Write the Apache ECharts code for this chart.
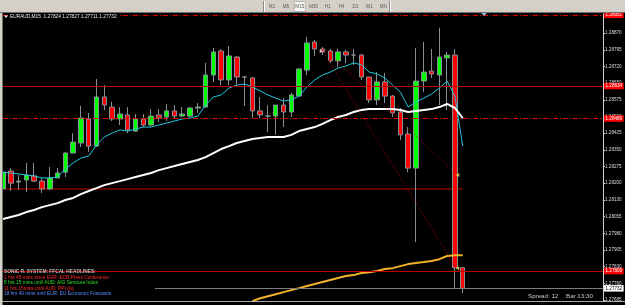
<!DOCTYPE html>
<html>
<head>
<meta charset="utf-8">
<script src="https://cdn.jsdelivr.net/npm/echarts@6/dist/echarts.min.js"></script>
<style>
  html, body { margin: 0; padding: 0; background: #d4d0c8; }
  #chart { width: 625px; height: 305px; }
</style>
</head>
<body>
<div id="chart"></div>
<script>
// ---- data (EURAUD M15, MT4) ----
const SYMBOL = 'EURAUD,M15';
const TIMEFRAMES = ['M1', 'M5', 'M15', 'M30', 'H1', 'H4', 'D1', 'W1', 'MN'];
const ACTIVE_TF = 'M15';

// [open, close, low, high]
const OHLC = [
  [1.28175, 1.28250, 1.28170, 1.28259], [1.28255, 1.28201, 1.28166, 1.28268],
  [1.28206, 1.28210, 1.28170, 1.28237], [1.28215, 1.28237, 1.28161, 1.28291],
  [1.28233, 1.28210, 1.28206, 1.28291], [1.28210, 1.28175, 1.28157, 1.28224],
  [1.28175, 1.28224, 1.28170, 1.28273], [1.28224, 1.28246, 1.28224, 1.28268],
  [1.28250, 1.28335, 1.28228, 1.28340], [1.28335, 1.28384, 1.28335, 1.28424],
  [1.28380, 1.28491, 1.28362, 1.28545], [1.28487, 1.28366, 1.28340, 1.28514],
  [1.28366, 1.28585, 1.28362, 1.28665], [1.28585, 1.28549, 1.28527, 1.28638],
  [1.28540, 1.28487, 1.28478, 1.28563], [1.28487, 1.28509, 1.28460, 1.28540],
  [1.28505, 1.28438, 1.28424, 1.28540], [1.28433, 1.28487, 1.28429, 1.28509],
  [1.28487, 1.28460, 1.28451, 1.28509], [1.28460, 1.28500, 1.28456, 1.28531],
  [1.28505, 1.28491, 1.28473, 1.28531], [1.28496, 1.28523, 1.28478, 1.28554],
  [1.28523, 1.28500, 1.28491, 1.28549], [1.28500, 1.28509, 1.28496, 1.28540],
  [1.28500, 1.28536, 1.28496, 1.28540], [1.28536, 1.28540, 1.28514, 1.28558],
  [1.28540, 1.28683, 1.28540, 1.28737], [1.28683, 1.28786, 1.28652, 1.28804],
  [1.28790, 1.28661, 1.28638, 1.28799], [1.28661, 1.28768, 1.28638, 1.28812],
  [1.28763, 1.28674, 1.28638, 1.28768], [1.28674, 1.28674, 1.28545, 1.28679],
  [1.28670, 1.28523, 1.28491, 1.28674], [1.28523, 1.28505, 1.28491, 1.28585],
  [1.28500, 1.28500, 1.28429, 1.28549], [1.28500, 1.28549, 1.28416, 1.28549],
  [1.28549, 1.28518, 1.28451, 1.28580], [1.28518, 1.28594, 1.28496, 1.28603],
  [1.28589, 1.28710, 1.28585, 1.28714], [1.28705, 1.28826, 1.28683, 1.28853],
  [1.28830, 1.28799, 1.28768, 1.28839], [1.28799, 1.28786, 1.28772, 1.28808],
  [1.28790, 1.28746, 1.28737, 1.28799], [1.28746, 1.28786, 1.28719, 1.28799],
  [1.28786, 1.28772, 1.28737, 1.28795], [1.28772, 1.28772, 1.28728, 1.28799],
  [1.28772, 1.28674, 1.28661, 1.28777], [1.28674, 1.28572, 1.28558, 1.28674],
  [1.28572, 1.28652, 1.28549, 1.28696], [1.28652, 1.28589, 1.28558, 1.28692],
  [1.28589, 1.28514, 1.28496, 1.28594], [1.28518, 1.28416, 1.28393, 1.28536],
  [1.28420, 1.28268, 1.28250, 1.28451], [1.28268, 1.28656, 1.27938, 1.28804],
  [1.28656, 1.28696, 1.28607, 1.28830], [1.28701, 1.28688, 1.28670, 1.28799],
  [1.28683, 1.28763, 1.28549, 1.28893], [1.28759, 1.28772, 1.28527, 1.28786],
  [1.28772, 1.27824, 1.27733, 1.28799], [1.27824, 1.27732, 1.27711, 1.27827]
];

const FAST_MA = [
  1.28250, 1.28246, 1.28242, 1.28237, 1.28233, 1.28224, 1.28224, 1.28228, 1.28264, 1.28291,
  1.28313, 1.28322, 1.28371, 1.28407, 1.28424, 1.28438, 1.28433, 1.28442, 1.28451, 1.28451,
  1.28460, 1.28469, 1.28478, 1.28487, 1.28491, 1.28500, 1.28549, 1.28585, 1.28594, 1.28625,
  1.28638, 1.28643, 1.28630, 1.28612, 1.28594, 1.28580, 1.28567, 1.28572, 1.28589, 1.28630,
  1.28661, 1.28683, 1.28696, 1.28714, 1.28723, 1.28737, 1.28728, 1.28696, 1.28688, 1.28670,
  1.28638, 1.28607, 1.28540, 1.28563, 1.28580, 1.28598, 1.28625, 1.28656, 1.28589, 1.28366
];

const SLOW_MA = [
  1.28041, 1.28050, 1.28059, 1.28072, 1.28081, 1.28094, 1.28103, 1.28112, 1.28126, 1.28135,
  1.28152, 1.28166, 1.28179, 1.28192, 1.28201, 1.28210, 1.28219, 1.28228, 1.28237, 1.28246,
  1.28259, 1.28268, 1.28277, 1.28286, 1.28295, 1.28304, 1.28317, 1.28335, 1.28353, 1.28366,
  1.28380, 1.28389, 1.28398, 1.28402, 1.28407, 1.28407, 1.28407, 1.28416, 1.28433, 1.28442,
  1.28451, 1.28465, 1.28482, 1.28496, 1.28505, 1.28518, 1.28527, 1.28531, 1.28531, 1.28531,
  1.28531, 1.28527, 1.28518, 1.28523, 1.28527, 1.28531, 1.28540, 1.28554, 1.28536, 1.28491
];

const LONG_MA = [
  null, null, null, null, null, null, null, null, null, null,
  null, null, null, null, null, null, null, null, null, null,
  null, null, null, null, null, null, null, null, null, null,
  null, null, 1.27675, 1.27688, 1.27697, 1.27706, 1.27715, 1.27724, 1.27733, 1.27742,
  1.27751, 1.27760, 1.27769, 1.27778, 1.27787, 1.27791, 1.27800, 1.27804, 1.27809, 1.27818,
  1.27822, 1.27831, 1.27840, 1.27845, 1.27849, 1.27854, 1.27862, 1.27876, 1.27880, 1.27880
];

// horizontal price levels (full width, labelled on the price scale)
const SOLID_LEVELS = [1.28634, 1.27809];
const DASHDOT_LEVELS = [1.28951, 1.28489];
const BID = 1.27732;

// objects in [bar position, price]
const SHORT_LINE = [[0, 1.28175], [59.05, 1.28175]];
const BID_LINE = [[19.5, BID], [77, BID]];
const TREND_A = [[40.94, 1.28795], [58.14, 1.27822]];
const TREND_B = [[41.32, 1.28795], [58.14, 1.28242]];
const ENTRY_ARROWS = [[58.3, 1.28237], [58.3, 1.27822]];
const START_ARROW = [[40.9, 1.28790]];

// price scale
const Y_MIN = 1.27680;
const Y_MAX = 1.28955;
const Y_STEP = 0.00074375;
const TICK_LABELS = ['1.27685', '1.27760', '1.27830', '1.27905', '1.27980', '1.28055', '1.28130',
  '1.28200', '1.28275', '1.28350', '1.28425', '1.28500', '1.28575', '1.28650', '1.28720',
  '1.28795', '1.28870'];

const NEWS_TITLE = 'SONIC R. SYSTEM: FFCAL HEADLINES:';
const NEWS = [
  '1 hrs 45 mins since EUR: ECB Press Conference',
  '8 hrs 15 mins until AUD: AIG Services Index',
  '11 hrs 15mins until AUD: PPI q/q',
  '18 hrs 40 mins until EUR: EU Economic Forecasts'
];
const SPREAD_TEXT = 'Spread: 12';
const BAR_TIMER = 'Bar 13:30';

// ---- chart ----
const FONT = '"Liberation Sans", Arial, sans-serif';
const NEWS_COLORS = ['#ff2b2b', '#2ee02e', '#ff2b2b', '#5b8cff'];
const SHIFT_BARS = 18;
const BARS = OHLC.map((_, i) => String(i)).concat(Array.from({ length: SHIFT_BARS }, (_, i) => 's' + i));
const last = OHLC[OHLC.length - 1];
const titleText = `${SYMBOL}  ${last[0].toFixed(5)} ${last[3].toFixed(5)} ${last[2].toFixed(5)} ${last[1].toFixed(5)}`;

function axisBox(text, bg, fg) {
  return {
    show: true, position: 'end', distance: 1,
    formatter: text,
    backgroundColor: bg, color: fg,
    fontSize: 4.6, fontFamily: FONT,
    padding: [1, 1.5, 0.5, 1.5]
  };
}

const dotted = { color: '#c00000', width: 1, type: [1, 2] };
const bidLabel = axisBox(BID.toFixed(5), '#ffffff', '#000000');

const objectLines = [
  ...SOLID_LEVELS.map((v) => ({
    yAxis: v,
    lineStyle: { color: '#c00000', width: 1, type: 'solid' },
    label: axisBox(v.toFixed(5), '#ff0000', '#ffffff')
  })),
  ...DASHDOT_LEVELS.map((v) => ({
    yAxis: v,
    lineStyle: { color: '#e00000', width: 1, type: [5, 2, 1, 2] },
    label: axisBox(v.toFixed(5), '#ff0000', '#ffffff')
  })),
  [{ coord: TREND_A[0], lineStyle: dotted }, { coord: TREND_A[1] }],
  [{ coord: TREND_B[0], lineStyle: dotted }, { coord: TREND_B[1] }],
  [
    { coord: BID_LINE[0], lineStyle: { color: '#7c7c7c', width: 1, type: 'solid' }, label: bidLabel },
    { coord: BID_LINE[1], label: bidLabel }
  ]
];

const graphics = [
  // toolbar and window frame
  { type: 'rect', z: 100, shape: { x: 0, y: 0, width: 625, height: 13 }, style: { fill: '#d4d0c8' } },
  { type: 'line', z: 100, shape: { x1: 0, y1: 12.5, x2: 625, y2: 12.5 }, style: { stroke: '#6e6e6e' } },
  { type: 'rect', z: 100, shape: { x: 0, y: 13, width: 2, height: 292 }, style: { fill: '#d4d0c8' } },
  { type: 'line', z: 100, shape: { x1: 2.5, y1: 13, x2: 2.5, y2: 305 }, style: { stroke: '#6e6e6e' } },
  { type: 'line', z: 100, shape: { x1: 263.5, y1: 1, x2: 263.5, y2: 12 }, style: { stroke: '#8a8a8a' } },
  { type: 'line', z: 100, shape: { x1: 264.5, y1: 1, x2: 264.5, y2: 12 }, style: { stroke: '#ffffff' } },
  { type: 'line', z: 100, shape: { x1: 389.5, y1: 1, x2: 389.5, y2: 12 }, style: { stroke: '#8a8a8a' } },
  { type: 'line', z: 100, shape: { x1: 390.5, y1: 1, x2: 390.5, y2: 12 }, style: { stroke: '#ffffff' } },
  // chart shift marker
  { type: 'polygon', z: 100, shape: { points: [[481, 13], [487, 13], [484, 16]] }, style: { fill: '#9fb4cc' } },
  // sub-window separator
  { type: 'line', z: 100, shape: { x1: 2, y1: 301.5, x2: 625, y2: 301.5 }, style: { stroke: '#a8a8a8' } },
  // title
  { type: 'polygon', z: 101, shape: { points: [[4, 15.5], [8, 15.5], [6, 18]] }, style: { fill: '#e8e8e8' } },
  {
    type: 'text', z: 101, x: 9, y: 16.8,
    style: {
      text: titleText, fill: '#e8e8e8', font: `4.8px ${FONT}`,
      verticalAlign: 'middle', backgroundColor: '#000', padding: [1, 2, 1, 1]
    }
  },
  // spread / bar timer
  { type: 'text', z: 101, x: 528, y: 296, style: { text: SPREAD_TEXT, fill: '#c8c8c8', font: `6.2px ${FONT}`, verticalAlign: 'middle' } },
  { type: 'text', z: 101, x: 566, y: 296, style: { text: BAR_TIMER, fill: '#c8c8c8', font: `6.2px ${FONT}`, verticalAlign: 'middle' } },
  // headline block
  { type: 'text', z: 101, x: 4, y: 272, style: { text: NEWS_TITLE, fill: '#bdbdbd', font: `bold 4.8px ${FONT}`, verticalAlign: 'middle' } },
  ...NEWS.map((t, i) => ({
    type: 'text', z: 101, x: 4, y: 277.6 + i * 5.5,
    style: { text: t, fill: NEWS_COLORS[i], font: `4.8px ${FONT}`, verticalAlign: 'middle' }
  }))
];

// timeframe buttons
TIMEFRAMES.forEach((tf, i) => {
  const cx = 272 + i * 13.9;
  if (tf === ACTIVE_TF) {
    graphics.push({
      type: 'rect', z: 100, shape: { x: cx - 5.5, y: 1.5, width: 11, height: 10 },
      style: { fill: '#f6f5f1', stroke: '#9a9a9a', lineWidth: 0.6 }
    });
  }
  graphics.push({
    type: 'text', z: 101, x: cx, y: 7,
    style: { text: tf, fill: '#5a5a5a', font: `4.6px ${FONT}`, align: 'center', verticalAlign: 'middle' }
  });
});

const chart = echarts.init(document.getElementById('chart'));
chart.setOption({
  backgroundColor: '#000000',
  animation: false,
  grid: { left: 3, right: 22, top: 14, bottom: 5 },
  xAxis: [
    { type: 'category', data: BARS, boundaryGap: false, show: false },
    { type: 'value', min: 0, max: BARS.length - 1, show: false }
  ],
  yAxis: {
    type: 'value', position: 'right',
    min: Y_MIN, max: Y_MAX, interval: Y_STEP,
    axisLine: { show: true, onZero: false, lineStyle: { color: '#cfcfcf', width: 1 } },
    axisTick: { show: true, length: 2, lineStyle: { color: '#cfcfcf' } },
    splitLine: { show: false },
    axisLabel: {
      margin: 2, color: '#dcdcdc', fontSize: 4.6, fontFamily: FONT,
      formatter: (v) => TICK_LABELS[Math.round((v - Y_MIN) / Y_STEP)] || ''
    }
  },
  series: [
    {
      name: 'objects', type: 'line', xAxisIndex: 1, data: SHORT_LINE, z: 1,
      symbol: 'none', silent: true,
      lineStyle: { color: '#c00000', width: 1 },
      markLine: {
        silent: true, symbol: 'none', animation: false, precision: 5,
        label: { show: false },
        data: objectLines
      }
    },
    {
      name: 'EURAUD', type: 'candlestick', data: OHLC, barWidth: 5, z: 2,
      itemStyle: {
        color: '#00ff00', color0: '#ff0000',
        borderColor: '#86909a', borderColor0: '#86909a', borderWidth: 1
      }
    },
    {
      name: 'MA fast', type: 'line', data: FAST_MA, z: 3, symbol: 'none', silent: true,
      lineStyle: { color: '#1ec8de', width: 1 }
    },
    {
      name: 'MA slow', type: 'line', data: SLOW_MA, z: 3, symbol: 'none', silent: true,
      lineStyle: { color: '#ffffff', width: 2 }
    },
    {
      name: 'MA long', type: 'line', data: LONG_MA, z: 3, symbol: 'none', silent: true,
      lineStyle: { color: '#f3b229', width: 2 }
    },
    {
      name: 'arrows', type: 'scatter', xAxisIndex: 1, data: ENTRY_ARROWS, z: 4,
      symbol: 'triangle', symbolSize: 4, symbolRotate: 90, silent: true,
      itemStyle: { color: '#f4d56a' }
    },
    {
      name: 'start', type: 'scatter', xAxisIndex: 1, data: START_ARROW, z: 4,
      symbol: 'triangle', symbolSize: 4, symbolRotate: -90, silent: true,
      itemStyle: { color: '#f2c8c8' }
    }
  ],
  graphic: graphics
});
</script>
</body>
</html>
